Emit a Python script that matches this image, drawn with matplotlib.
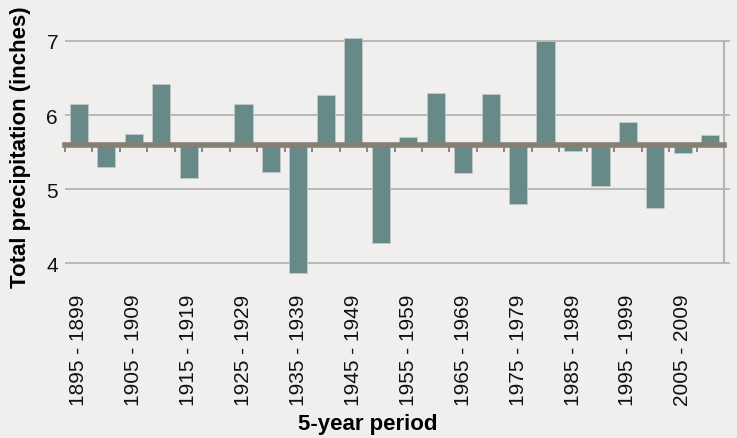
import matplotlib.pyplot as plt
import numpy as np
from matplotlib import font_manager

periods = ['1895 - 1899', '1900 - 1904', '1905 - 1909', '1910 - 1914', '1915 - 1919',
           '1920 - 1924', '1925 - 1929', '1930 - 1934', '1935 - 1939', '1940 - 1944',
           '1945 - 1949', '1950 - 1954', '1955 - 1959', '1960 - 1964', '1965 - 1969',
           '1970 - 1974', '1975 - 1979', '1980 - 1984', '1985 - 1989', '1990 - 1994',
           '1995 - 1999', '2000 - 2004', '2005 - 2009', '2010 - 2014']
precip = [6.15, 5.30, 5.75, 6.42, 5.15, 5.60, 6.15, 5.23, 3.86, 6.27,
          7.04, 4.27, 5.70, 6.30, 5.22, 6.29, 4.80, 7.00, 5.52, 5.04,
          5.91, 4.75, 5.49, 5.73]
average = 5.6
yticks = [4, 5, 6, 7]

bg = '#f0efed'
bar_color = '#678a89'
base_color = '#857f74'
grid_color = '#b5b5b5'

plt.rcParams['font.family'] = ['Liberation Sans', 'DejaVu Sans']
names = {f.name for f in font_manager.fontManager.ttflist}
narrow = 'Liberation Sans Narrow' if 'Liberation Sans Narrow' in names else 'Liberation Sans'

fig = plt.figure(figsize=(7.37, 4.39), dpi=100, facecolor=bg)
ax = fig.add_axes([0.0882, 0.3733, 0.8942, 0.5479], facecolor=bg)

x = np.arange(len(precip))
heights = [p - average for p in precip]
ax.bar(x, heights, bottom=average, width=0.66, color=bar_color,
       edgecolor='#c9d3d2', linewidth=0.4, zorder=3)

ax.set_xlim(-0.5, len(precip) - 0.5)
ax.set_ylim(3.85, 7.1)

# gridlines
ax.set_yticks(yticks)
ax.yaxis.grid(True, color=grid_color, linewidth=1.3, zorder=0)
ax.tick_params(axis='y', length=0, labelsize=15, pad=5, labelcolor='#111111')

# right spine only between 4 and 7, with outward ticks
for s in ['top', 'left']:
    ax.spines[s].set_visible(False)
ax.spines['right'].set_bounds(yticks[0], yticks[-1])
ax.spines['right'].set_color(grid_color)
ax.spines['right'].set_linewidth(1.5)
ax2 = ax.secondary_yaxis('right')
ax2.set_yticks(yticks)
ax2.tick_params(length=4, color=grid_color, width=1.3, labelright=False)
ax2.spines['right'].set_visible(False)

# baseline as the x axis at the average value
ax.spines['bottom'].set_position(('data', average))
ax.spines['bottom'].set_color(base_color)
ax.spines['bottom'].set_linewidth(4)
ax.spines['bottom'].set_zorder(4)
ax.set_xticks(np.arange(-0.5, len(precip)))
ax.tick_params(axis='x', length=5, width=1.3, color=base_color, labelbottom=False)

# period labels at the bottom
sec = ax.secondary_xaxis(0)
sec.set_xticks(x[::2])
sec.set_xticklabels(periods[::2], rotation=90, fontsize=15, color='#111111')
sec.tick_params(length=0, pad=14)
sec.spines['bottom'].set_visible(False)

ax.set_ylabel('Total precipitation (inches)', fontsize=16, fontweight='bold', family=narrow)
ax.yaxis.set_label_coords(-0.052, 0.533)
fig.text(368 / 737, 1 - 425 / 439, '5-year period', ha='center', va='center',
         fontsize=16, fontweight='bold', family=narrow)

fig.savefig('out.png', dpi=100, facecolor=bg)
